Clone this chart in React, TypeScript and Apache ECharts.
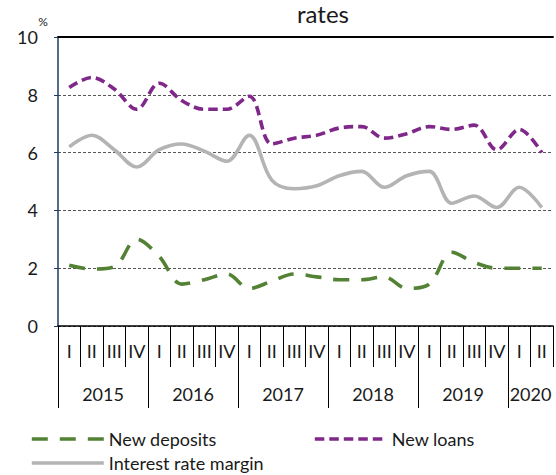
import React, { useEffect, useRef } from "react";
import * as echarts from "echarts";

const years = ["2015", "2016", "2017", "2018", "2019", "2020"];
const quartersPerYear = [4, 4, 4, 4, 4, 2];
const quarterNames = ["I", "II", "III", "IV"];

const newDeposits = [2.1, 1.97, 2.05, 3.0, 2.4, 1.45, 1.6, 1.8, 1.3, 1.55, 1.8, 1.7, 1.6, 1.6, 1.7, 1.3, 1.45, 2.55, 2.2, 2.0, 2.0, 2.0];
const newLoans = [8.25, 8.6, 8.2, 7.5, 8.4, 7.8, 7.5, 7.5, 7.95, 6.3, 6.5, 6.6, 6.85, 6.9, 6.5, 6.65, 6.9, 6.8, 6.95, 6.1, 6.8, 6.0];
const interestMargin = [6.2, 6.6, 6.1, 5.5, 6.1, 6.3, 6.05, 5.7, 6.6, 5.05, 4.75, 4.85, 5.2, 5.35, 4.8, 5.2, 5.35, 4.25, 4.5, 4.1, 4.8, 4.1];

const yMin = 0;
const yMax = 10;
const yStep = 2;

const FONT = "Lato";
const TXT = "#1a1a1a";

export default function App() {
  const ref = useRef<HTMLDivElement>(null);

  useEffect(() => {
    if (!ref.current) return;
    const chart = echarts.init(ref.current, undefined, { renderer: "svg" });

    const quarters: string[] = [];
    quartersPerYear.forEach((n) => {
      for (let q = 0; q < n; q++) quarters.push(quarterNames[q]);
    });
    const totalQ = quarters.length;

    const halfCount = totalQ * 2 + 1;
    const yearLabels: string[] = new Array(halfCount).fill("");
    const yearTickIdx = new Set<number>();
    let cum = 0;
    years.forEach((y, i) => {
      const s = cum * 2;
      yearTickIdx.add(s);
      yearLabels[s + quartersPerYear[i]] = y;
      cum += quartersPerYear[i];
    });
    const halfCats = yearLabels.map((l, i) => (l ? l : "h" + i));

    const mkSeries = (name: string, data: number[], color: string, type: any, z: number) => ({
      name,
      type: "line",
      data,
      smooth: 0.35,
      symbol: "none",
      z,
      lineStyle: { color, width: 3.6, type, cap: "butt" },
      itemStyle: { color },
    });

    const legendCommon = {
      itemWidth: 72,
      itemHeight: 14,
      itemGap: 5,
      itemStyle: { color: "transparent", borderWidth: 0, opacity: 0 },
      lineStyle: { width: 3.6 },
      textStyle: { fontFamily: FONT, fontSize: 18, color: TXT, padding: [0, 0, 0, 0] },
      padding: 0,
      orient: "horizontal",
    };

    chart.setOption({
      animation: false,
      grid: { left: 58, right: 0, top: 37, bottom: 149, containLabel: false },
      graphic: [
        {
          type: "text",
          x: 323,
          y: 13,
          style: { text: "rates", font: `24px ${FONT}`, fill: TXT, align: "center", verticalAlign: "middle" },
        },
        {
          type: "text",
          x: 43,
          y: 21,
          style: { text: "%", font: `12px ${FONT}`, fill: TXT, align: "center", verticalAlign: "middle" },
        },
      ],
      legend: [
        { ...legendCommon, left: 30, top: 430, data: ["New deposits"] },
        { ...legendCommon, left: 313, top: 430, data: ["New loans"] },
        { ...legendCommon, left: 30, top: 454, data: ["Interest rate margin"] },
      ],
      xAxis: [
        {
          type: "category",
          data: quarters,
          position: "bottom",
          boundaryGap: true,
          axisLine: { show: true, onZero: false, lineStyle: { color: "#000", width: 1.5 } },
          axisTick: { show: true, interval: 0, length: 41, lineStyle: { color: "#000", width: 1 } },
          axisLabel: { interval: 0, margin: 16, fontFamily: FONT, fontSize: 18, color: TXT },
          splitLine: { show: false },
        },
        {
          type: "category",
          data: quarters,
          position: "top",
          boundaryGap: true,
          axisLine: { show: true, onZero: false, lineStyle: { color: "#000", width: 2 } },
          axisTick: { show: false },
          axisLabel: { show: false },
          splitLine: { show: false },
        },
        {
          type: "category",
          data: halfCats,
          position: "bottom",
          boundaryGap: false,
          axisLine: { show: false, onZero: false },
          axisTick: {
            show: true,
            interval: (idx: number) => yearTickIdx.has(idx),
            length: 82,
            lineStyle: { color: "#000", width: 1 },
          },
          axisLabel: {
            interval: 0,
            margin: 59,
            fontFamily: FONT,
            fontSize: 18,
            color: TXT,
            formatter: (v: string) => (v.charAt(0) === "h" ? "" : v),
          },
          splitLine: { show: false },
        },
      ],
      yAxis: {
        type: "value",
        min: yMin,
        max: yMax,
        interval: yStep,
        axisLine: { show: true, lineStyle: { color: "#1f3864", width: 1.5 } },
        axisTick: { show: true, length: 4, lineStyle: { color: "#1f3864", width: 1 } },
        axisLabel: { margin: 20, fontFamily: FONT, fontSize: 18, color: TXT },
        splitLine: { show: true, lineStyle: { color: "#555", width: 1, type: [3, 2] } },
      },
      series: [
        mkSeries("New deposits", newDeposits, "#548235", [16, 12], 3),
        mkSeries("New loans", newLoans, "#80288a", [9.5, 5], 3),
        mkSeries("Interest rate margin", interestMargin, "#b4b4b4", "solid", 2),
      ],
    });

    return () => chart.dispose();
  }, []);

  return (
    <div
      ref={ref}
      style={{ width: 556, height: 475, position: "absolute", left: 0, top: 0 }}
    />
  );
}
